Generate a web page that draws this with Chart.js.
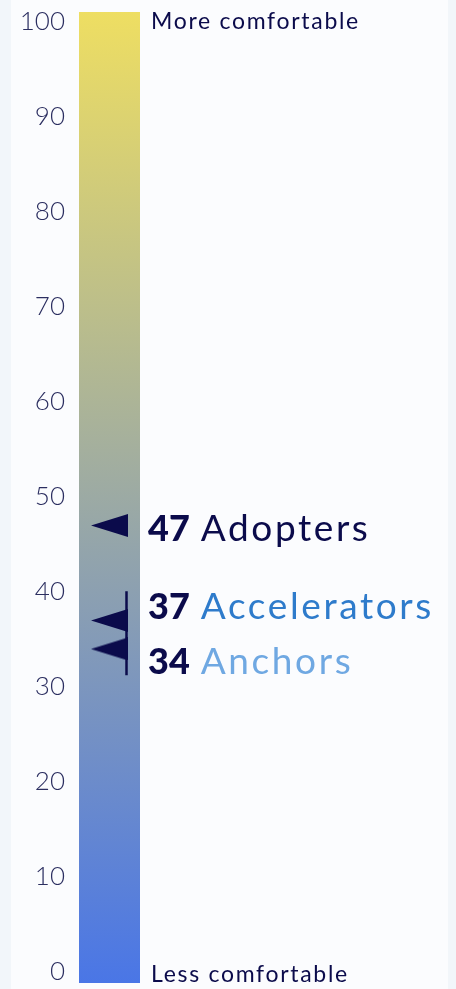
<!DOCTYPE html>
<html>
<head>
<meta charset="utf-8">
<script src="https://cdn.jsdelivr.net/npm/chart.js@4.4.1/dist/chart.umd.min.js"></script>
<style>
  html, body { margin: 0; padding: 0; background: #f2f6fa; }
  #card { position: absolute; left: 11px; top: 0; width: 437px; height: 989px; background: #fbfcfe; }
  #wrap { position: absolute; left: 0; top: 0; width: 456px; height: 989px; }
</style>
</head>
<body>
<div id="card"></div>
<div id="wrap"><canvas id="comfort"></canvas></div>
<script>
// ── Data ─────────────────────────────────────────────────────────────────────
const CATEGORY     = ['Comfort'];
const SCALE_RANGE  = [0, 100];
const TICKS        = [0, 10, 20, 30, 40, 50, 60, 70, 80, 90, 100];
const SEGMENTS     = ['Adopters', 'Accelerators', 'Anchors'];
const SCORES       = [47, 37, 34];
const END_LABELS   = ['More comfortable', 'Less comfortable'];

// ── Styles ───────────────────────────────────────────────────────────────────
const NAVY           = '#0b0b4b';
const SEGMENT_COLORS = [NAVY, '#2e7bcb', '#6fa8e2'];
const FONT           = "Lato, 'Noto Sans', sans-serif";
const MIN_GAP        = 55;

// left-pointing marker, drawn once and used as pointStyle
const marker = document.createElement('canvas');
marker.width = 37; marker.height = 23;
(() => {
  const m = marker.getContext('2d');
  m.fillStyle = NAVY;
  m.beginPath();
  m.moveTo(0, 11.5);
  m.lineTo(37, 0);
  m.lineTo(37, 23);
  m.closePath();
  m.fill();
})();

function barGradient(ctx) {
  const area = ctx.chart.chartArea;
  if (!area) return '#9caaa4';
  const g = ctx.chart.ctx.createLinearGradient(0, area.top, 0, area.bottom);
  g.addColorStop(0, '#eede62');
  g.addColorStop(1, '#4a76e6');
  return g;
}

// ── Labels next to the markers + end captions ────────────────────────────────
const labelPlugin = {
  id: 'segmentLabels',
  afterDatasetsDraw(chart) {
    const { ctx, chartArea, scales } = chart;
    const yL = scales.yL;
    const xc = scales.x.getPixelForValue(0);
    const textX = chartArea.right + 8;

    // cluster labels that would overlap, spread them around their mean
    const items = SCORES.map((v, i) => ({ i, py: yL.getPixelForValue(v) }))
      .sort((a, b) => a.py - b.py);
    const clusters = [];
    items.forEach(it => {
      const last = clusters[clusters.length - 1];
      if (last && it.py - last[last.length - 1].py < MIN_GAP) last.push(it);
      else clusters.push([it]);
    });

    ctx.save();
    ctx.textBaseline = 'middle';
    clusters.forEach(cl => {
      const mean = cl.reduce((s, it) => s + it.py, 0) / cl.length;
      cl.forEach((it, k) => {
        it.ty = cl.length > 1 ? mean + (k - (cl.length - 1) / 2) * MIN_GAP : it.py + 4;
        ctx.letterSpacing = '0px';
        ctx.font = `900 36px ${FONT}`;
        ctx.fillStyle = NAVY;
        const num = String(SCORES[it.i]);
        ctx.fillText(num, textX, it.ty);
        const w = ctx.measureText(num).width + 11;
        ctx.letterSpacing = '2.6px';
        ctx.font = `400 37px ${FONT}`;
        ctx.fillStyle = SEGMENT_COLORS[it.i];
        ctx.fillText(SEGMENTS[it.i], textX + w, it.ty);
      });
      if (cl.length > 1) {
        ctx.strokeStyle = NAVY;
        ctx.lineWidth = 2.5;
        ctx.beginPath();
        ctx.moveTo(xc + 17, cl[0].ty - 16);
        ctx.lineTo(xc + 17, cl[cl.length - 1].ty + 13);
        ctx.stroke();
      }
    });

    ctx.font = `400 23px ${FONT}`;
    ctx.letterSpacing = '1.7px';
    ctx.fillStyle = NAVY;
    ctx.fillText(END_LABELS[0], chartArea.right + 11, chartArea.top + 10);
    ctx.fillText(END_LABELS[1], chartArea.right + 11, chartArea.bottom - 8);
    ctx.restore();
  },
};

new Chart(document.getElementById('comfort'), {
  data: {
    labels: CATEGORY,
    datasets: [
      {
        type: 'bar',
        data: [SCALE_RANGE],
        backgroundColor: barGradient,
        barPercentage: 1,
        categoryPercentage: 1,
        yAxisID: 'y',
        order: 2,
      },
      {
        type: 'line',
        data: SCORES.map(v => ({ x: CATEGORY[0], y: v })),
        showLine: false,
        pointStyle: marker,
        yAxisID: 'yL',
        order: 1,
      },
    ],
  },
  options: {
    responsive: true,
    maintainAspectRatio: false,
    animation: false,
    layout: { padding: { top: 12, bottom: 6, right: 316, left: 0 } },
    plugins: { legend: { display: false }, tooltip: { enabled: false } },
    scales: {
      x: { display: false },
      y: { display: false, min: SCALE_RANGE[0], max: SCALE_RANGE[1] },
      yL: {
        position: 'left',
        min: -1.158,
        max: 101.05,
        afterBuildTicks(s) { s.ticks = TICKS.map(v => ({ value: v })); },
        afterFit(s) {
          s.width = 79;
          s.paddingTop = 0;
          s.paddingBottom = 0;
        },
        grid: { display: false, drawTicks: false },
        border: { display: false },
        ticks: {
          padding: 14,
          color: '#2b2e60',
          font: { family: FONT, size: 26, weight: 300 },
        },
      },
    },
  },
  plugins: [labelPlugin],
});
</script>
</body>
</html>
